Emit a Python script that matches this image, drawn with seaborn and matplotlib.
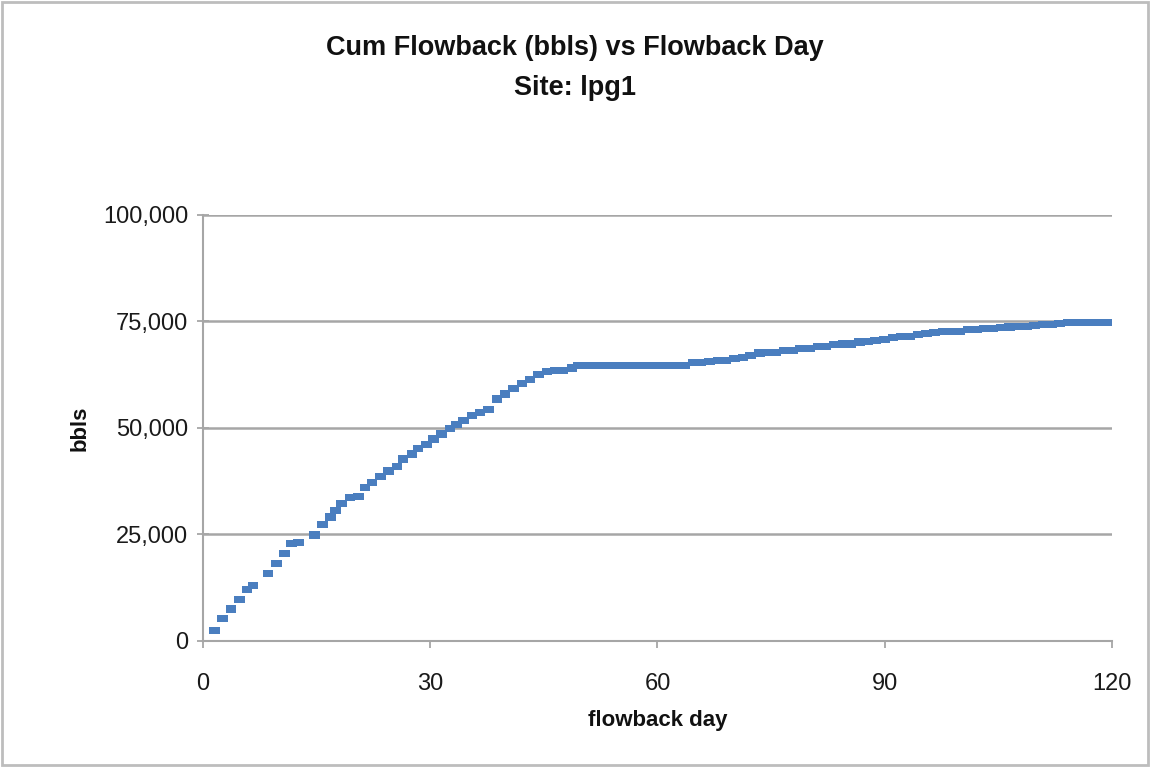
import matplotlib
matplotlib.use("Agg")
import matplotlib.pyplot as plt
from matplotlib.patches import Rectangle
from matplotlib.ticker import FuncFormatter, FixedLocator
import seaborn as sns
import pandas as pd

# Flowback day of each reading
flowback_day = [
    1.5, 2.6, 3.7, 4.8, 5.8, 6.6, 8.6, 9.7, 10.8, 11.7, 12.6, 14.7, 15.8, 16.8,
    17.5, 18.3, 19.4, 20.5, 21.4, 22.3, 23.4, 24.5, 25.6, 26.4, 27.6, 28.4,
    29.5, 30.4, 31.5, 32.6, 33.5, 34.4, 35.5, 36.6, 37.7, 38.8, 39.9, 41.0,
    42.1, 43.2, 44.3, 45.4, 46.5, 47.5, 48.7, 49.6, 50.6, 51.8, 52.9, 53.9,
    55.1, 56.1, 57.2, 58.4, 59.5, 60.5, 61.7, 62.8, 63.6, 64.7, 65.7, 66.9,
    68.0, 69.0, 70.2, 71.3, 72.3, 73.5, 74.6, 75.6, 76.8, 77.9, 78.9, 80.1,
    81.2, 82.2, 83.4, 84.5, 85.5, 86.7, 87.8, 88.8, 90.0, 91.1, 92.2, 93.3,
    94.4, 95.5, 96.6, 97.7, 98.8, 99.9, 101.0, 102.1, 103.2, 104.3, 105.4,
    106.5, 107.6, 108.7, 109.8, 110.9, 112.0, 113.1, 114.2, 115.3, 116.4,
    117.5, 118.6, 119.7, 120.8,
]

# Cumulative flowback volume, bbls
cum_bbls = [
    2400, 5300, 7500, 9700, 12000, 13100, 15900, 18200, 20500, 22800, 23200,
    24900, 27300, 29100, 30700, 32300, 33600, 34000, 36000, 37200, 38700,
    39900, 41000, 42700, 43900, 45200, 46200, 47400, 48600, 49800, 50900,
    51700, 52900, 53700, 54300, 56800, 58000, 59200, 60400, 61400, 62500,
    63300, 63500, 63500, 64100, 64700, 64700, 64700, 64700, 64700, 64700,
    64700, 64700, 64700, 64700, 64700, 64700, 64700, 64700, 65300, 65300,
    65700, 65900, 65900, 66400, 66500, 67000, 67600, 67700, 67700, 68100,
    68100, 68600, 68700, 69100, 69200, 69600, 69700, 69700, 70200, 70300,
    70600, 70700, 71300, 71400, 71400, 72000, 72200, 72500, 72600, 72700,
    72700, 73100, 73200, 73300, 73300, 73600, 73700, 73800, 73900, 74100,
    74200, 74300, 74600, 74700, 74700, 74700, 74700, 74700, 74700, 74700,
]

x_ticks = [0, 30, 60, 90, 120]
y_ticks = [0, 25000, 50000, 75000, 100000]

df = pd.DataFrame({"day": flowback_day, "bbls": cum_bbls})

sns.set_theme(style="white")
plt.rcParams["font.family"] = ["Liberation Sans", "DejaVu Sans"]

fig = plt.figure(figsize=(11.5, 7.67), dpi=100)
ax = fig.add_axes([0.1765, 0.1643, 0.7904, 0.5554])

# wide rectangular marker, Excel style
rect_marker = [(-1, -0.68), (1, -0.68), (1, 0.68), (-1, 0.68), (-1, -0.68)]
sns.scatterplot(data=df, x="day", y="bbls", ax=ax, marker=rect_marker,
                s=58, color="#4A7EBF", edgecolor="none", linewidth=0,
                legend=False, zorder=3)

ax.set_xlim(0, 120)
ax.set_ylim(0, 100000)
ax.xaxis.set_major_locator(FixedLocator(x_ticks))
ax.yaxis.set_major_locator(FixedLocator(y_ticks))
ax.yaxis.set_major_formatter(FuncFormatter(lambda v, p: f"{int(v):,}"))

grid_col = "#A6A6A6"
ax.grid(axis="y", color=grid_col, linewidth=1.8)
ax.grid(axis="x", visible=False)
for side in ("top", "right"):
    ax.spines[side].set_visible(False)
for side in ("left", "bottom"):
    ax.spines[side].set_color(grid_col)
    ax.spines[side].set_linewidth(1.5)
ax.set_axisbelow(True)
ax.spines["bottom"].set_zorder(2)

ax.tick_params(axis="y", which="major", direction="inout", length=9,
               width=1.3, color=grid_col, labelsize=17, labelcolor="#1a1a1a", pad=6)
ax.tick_params(axis="x", which="major", direction="out", length=5,
               width=1.3, color=grid_col, labelsize=17, labelcolor="#1a1a1a", pad=18)
ax.tick_params(left=True, bottom=True)

ax.set_xlabel("flowback day", fontsize=16, fontweight="bold", color="#111111", labelpad=11)
ax.set_ylabel("bbls", fontsize=16, fontweight="bold", color="#111111", labelpad=9)

fig.text(0.5, 0.938, "Cum Flowback (bbls) vs Flowback Day", ha="center", va="center",
         fontsize=19.5, fontweight="bold", color="#111111")
fig.text(0.5, 0.885, "Site: lpg1", ha="center", va="center",
         fontsize=19.5, fontweight="bold", color="#111111")

# thin frame around the chart area
fig.patches.append(Rectangle((0.002, 0.003), 0.996, 0.994, transform=fig.transFigure,
                             fill=False, edgecolor="#BDBDBD", linewidth=2))

fig.savefig("out.png", dpi=100)
